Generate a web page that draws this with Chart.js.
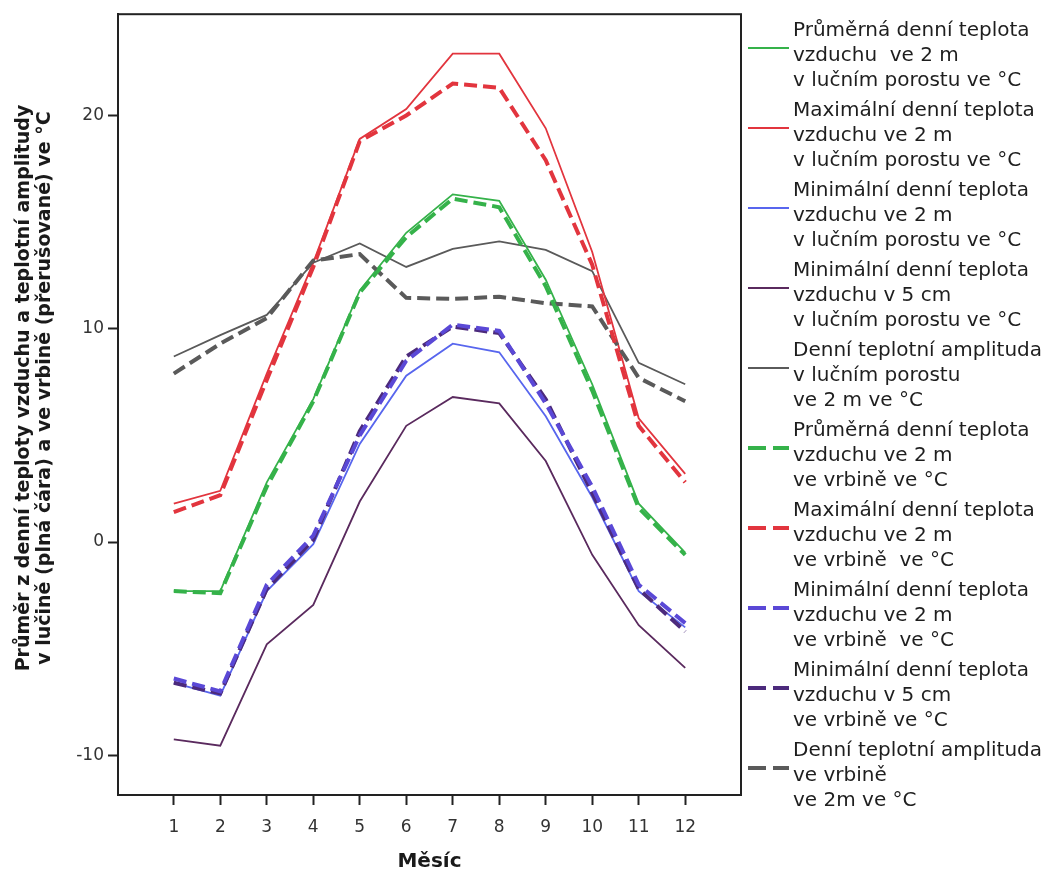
<!DOCTYPE html>
<html>
<head>
<meta charset="utf-8">
<script src="https://cdn.jsdelivr.net/npm/chart.js@4"></script>
<style>
  html, body { margin: 0; padding: 0; background: #fff; }
  #wrap { width: 1056px; height: 879px; }
</style>
</head>
<body>
<div id="wrap"><canvas id="chart" width="1056" height="879"></canvas></div>
<script>
// months on x axis
const months = [1, 2, 3, 4, 5, 6, 7, 8, 9, 10, 11, 12];
const yTicks = [-10, 0, 10, 20];

// meadow (solid lines)
const avgMeadow = [-2.3, -2.3, 2.8, 6.7, 11.8, 14.5, 16.3, 16.0, 12.3, 7.4, 1.8, -0.5];
const maxMeadow = [1.8, 2.4, 7.9, 13.1, 18.9, 20.3, 22.9, 22.9, 19.4, 13.6, 5.8, 3.2];
const minMeadow2m = [-6.6, -7.2, -2.3, -0.1, 4.6, 7.8, 9.3, 8.9, 5.9, 2.1, -2.3, -4.0];
const minMeadow5cm = [-9.25, -9.55, -4.8, -2.95, 1.9, 5.45, 6.8, 6.5, 3.8, -0.6, -3.9, -5.9];
const ampMeadow = [8.7, 9.7, 10.65, 13.1, 14.0, 12.9, 13.75, 14.1, 13.7, 12.7, 8.4, 7.4];

// willow (dashed lines)
const avgWillow = [-2.3, -2.4, 2.6, 6.6, 11.7, 14.3, 16.1, 15.7, 12.0, 7.1, 1.6, -0.6];
const maxWillow = [1.4, 2.2, 7.6, 12.9, 18.8, 20.0, 21.5, 21.3, 17.9, 13.0, 5.45, 2.8];
const minWillow2m = [-6.4, -7.0, -2.0, 0.3, 5.0, 8.5, 10.2, 9.9, 6.5, 2.6, -2.0, -3.8];
const minWillow5cm = [-6.6, -7.1, -2.2, 0.1, 5.2, 8.7, 10.1, 9.8, 6.7, 2.3, -2.2, -4.2];
const ampWillow = [7.9, 9.3, 10.5, 13.2, 13.5, 11.45, 11.4, 11.5, 11.2, 11.05, 7.7, 6.6];

const legendLabels = [
  ['Průměrná denní teplota', 'vzduchu  ve 2 m', 'v lučním porostu ve °C'],
  ['Maximální denní teplota', 'vzduchu ve 2 m', 'v lučním porostu ve °C'],
  ['Minimální denní teplota', 'vzduchu ve 2 m', 'v lučním porostu ve °C'],
  ['Minimální denní teplota', 'vzduchu v 5 cm', 'v lučním porostu ve °C'],
  ['Denní teplotní amplituda', 'v lučním porostu', 've 2 m ve °C'],
  ['Průměrná denní teplota', 'vzduchu ve 2 m', 've vrbině ve °C'],
  ['Maximální denní teplota', 'vzduchu ve 2 m', 've vrbině  ve °C'],
  ['Minimální denní teplota', 'vzduchu ve 2 m', 've vrbině  ve °C'],
  ['Minimální denní teplota', 'vzduchu v 5 cm', 've vrbině ve °C'],
  ['Denní teplotní amplituda', 've vrbině', 've 2m ve °C'],
];

const yTitle = ['Průměr z denní teploty vzduchu a teplotní amplitudy',
  'v lučině (plná čára) a ve vrbině (přerušované) ve °C'];
const xTitle = 'Měsíc';

const series = [avgMeadow, maxMeadow, minMeadow2m, minMeadow5cm, ampMeadow,
  avgWillow, maxWillow, minWillow2m, minWillow5cm, ampWillow];
const colors = ['#35b24a', '#e2353e', '#5866ee', '#5a2a5e', '#5a5a5a',
  '#35b24a', '#e2353e', '#5a48d6', '#4c2a7c', '#5a5a5a'];

const datasets = series.map((vals, i) => {
  const dashed = i >= 5;
  return {
    label: legendLabels[i].join(' '),
    data: months.map((m, j) => ({ x: m, y: vals[j] })),
    borderColor: colors[i],
    borderWidth: dashed ? 4 : 1.8,
    borderDash: dashed ? [13, 6] : [],
    pointRadius: 0,
    fill: false,
    tension: 0,
    order: dashed ? 0 : 1,
  };
});

const FONT = "'DejaVu Sans', sans-serif";

// frame, axis titles and the multi-line legend
const extras = {
  id: 'extras',
  afterDraw(chart) {
    const c = chart.ctx;
    const a = chart.chartArea;
    c.save();
    c.strokeStyle = '#222';
    c.lineWidth = 2;
    c.strokeRect(a.left, a.top, a.right - a.left, a.bottom - a.top);

    // y title
    c.fillStyle = '#1a1a1a';
    c.font = 'bold 19px ' + FONT;
    c.textAlign = 'center';
    c.textBaseline = 'middle';
    c.save();
    c.translate(24, 388);
    c.rotate(-Math.PI / 2);
    c.fillText(yTitle[0], 0, 0);
    c.fillText(yTitle[1], 0, 21);
    c.restore();

    // x title
    c.font = 'bold 20px ' + FONT;
    c.fillText(xTitle, (a.left + a.right) / 2, 862);

    // legend
    c.textAlign = 'left';
    c.textBaseline = 'alphabetic';
    c.font = '20px ' + FONT;
    chart.data.datasets.forEach((ds, i) => {
      const y0 = 36 + 80 * i;
      c.save();
      c.strokeStyle = ds.borderColor;
      c.lineWidth = ds.borderDash.length ? 4 : 2;
      c.setLineDash(ds.borderDash.length ? [18, 7] : []);
      c.beginPath();
      c.moveTo(748, y0 + 12);
      c.lineTo(789, y0 + 12);
      c.stroke();
      c.restore();
      c.fillStyle = '#1e1e1e';
      legendLabels[i].forEach((t, k) => c.fillText(t, 793, y0 + 25 * k));
    });
    c.restore();
  },
};

new Chart(document.getElementById('chart'), {
  type: 'line',
  data: { datasets },
  options: {
    responsive: false,
    animation: false,
    layout: { padding: { left: 0, top: 10, right: 315, bottom: 0 } },
    plugins: { legend: { display: false }, tooltip: { enabled: false } },
    scales: {
      x: {
        type: 'linear',
        min: -0.2,
        max: 13.2,
        afterBuildTicks: axis => { axis.ticks = months.map(v => ({ value: v })); },
        afterFit: axis => { axis.height = 84; },
        grid: { drawOnChartArea: false, tickLength: 10, tickColor: '#222', tickWidth: 2 },
        border: { color: '#222', width: 2 },
        ticks: { color: '#333', font: { family: FONT, size: 17 }, padding: 12, maxRotation: 0 },
      },
      y: {
        type: 'linear',
        min: -11.86,
        max: 24.75,
        afterBuildTicks: axis => { axis.ticks = yTicks.map(v => ({ value: v })); },
        afterFit: axis => { axis.width = 118; },
        grid: { drawOnChartArea: false, tickLength: 10, tickColor: '#222', tickWidth: 2 },
        border: { color: '#222', width: 2 },
        ticks: { color: '#333', font: { family: FONT, size: 17 }, padding: 4 },
      },
    },
  },
  plugins: [extras],
});
</script>
</body>
</html>
